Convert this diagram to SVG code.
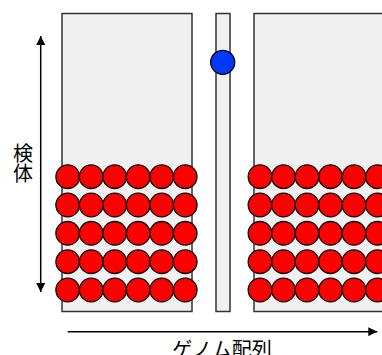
<svg xmlns="http://www.w3.org/2000/svg" width="382" height="355" viewBox="0 0 382 355">
<defs>
<style>
.box{fill:#f0f0f0;stroke:#333;stroke-width:1.5}
.r{fill:#ff0000;stroke:#000;stroke-width:1.3}
.b{fill:#0038ff;stroke:#000;stroke-width:1.3}
.ax{stroke:#000;stroke-width:1.5;fill:none}
.t{font-family:"Noto Sans CJK JP","Noto Sans CJK SC",sans-serif;font-size:20px;fill:#000}
</style>
<marker id="ah" viewBox="0 0 10 10" refX="10" refY="5" markerWidth="9" markerHeight="9" markerUnits="userSpaceOnUse" orient="auto">
<path d="M0,0 L10,5 L0,10 Z" fill="#000"/>
</marker>
<g id="row">
<circle class="r" cx="0" cy="0" r="11.8"/>
<circle class="r" cx="23.5" cy="0" r="11.8"/>
<circle class="r" cx="47" cy="0" r="11.8"/>
<circle class="r" cx="70.5" cy="0" r="11.8"/>
<circle class="r" cx="94" cy="0" r="11.8"/>
<circle class="r" cx="117.5" cy="0" r="11.8"/>
</g>
<g id="grid">
<use href="#row" y="176.7"/>
<use href="#row" y="205"/>
<use href="#row" y="233.3"/>
<use href="#row" y="261.7"/>
<use href="#row" y="290"/>
</g>
</defs>
<rect width="382" height="355" fill="#fff"/>
<g id="left-block">
<rect class="box" x="62" y="13.5" width="130" height="298"/>
<use href="#grid" x="67.7"/>
</g>
<g id="middle-strip">
<rect class="box" x="216" y="13.5" width="14" height="298"/>
<circle class="b" cx="222.7" cy="62.3" r="12"/>
</g>
<g id="right-block">
<rect class="box" x="254" y="13.5" width="130" height="298"/>
<use href="#grid" x="260"/>
</g>
<g id="connectors">
<line class="ax" x1="40.7" y1="165" x2="40.7" y2="36" marker-end="url(#ah)"/>
<line class="ax" x1="40.7" y1="165" x2="40.7" y2="292" marker-end="url(#ah)"/>
<line class="ax" x1="67.7" y1="331.7" x2="377.3" y2="331.7" marker-end="url(#ah)"/>
</g>
<g id="labels">
<text class="t" x="23" y="143.5" writing-mode="vertical-rl">検体</text>
<text class="t" x="222" y="356.5" text-anchor="middle">ゲノム配列</text>
</g>
</svg>
